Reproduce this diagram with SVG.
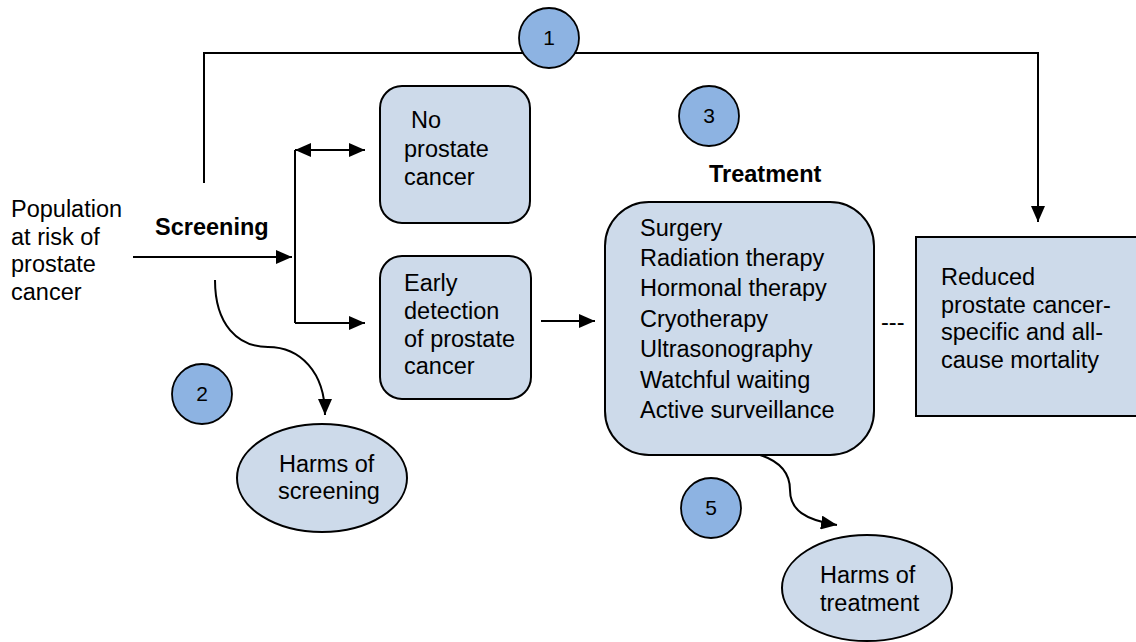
<svg xmlns="http://www.w3.org/2000/svg" width="1136" height="642" viewBox="0 0 1136 642">
<style>
text{font-family:"Liberation Sans",Arial,sans-serif;font-size:23.5px;fill:#000}
.b{font-weight:bold}
.box{fill:#cddaea;stroke:#000;stroke-width:2}
.kq{fill:#8db3e2;stroke:#000;stroke-width:1.8}
.ln{fill:none;stroke:#000;stroke-width:2}
.n{font-size:21px}
</style>
<defs>
<marker id="arr" viewBox="0 0 16 14" refX="16" refY="7" markerWidth="16" markerHeight="14" markerUnits="userSpaceOnUse" orient="auto-start-reverse">
<path d="M0,0 L16,7 L0,14 z" fill="#000"/>
</marker>
</defs>
<rect width="1136" height="642" fill="#fff"/>
<g id="connectors">
<polyline class="ln" points="204,183 204,53 1038,53 1038,222" marker-end="url(#arr)"/>
<line class="ln" x1="133" y1="257" x2="292" y2="257" marker-end="url(#arr)"/>
<line class="ln" x1="295" y1="150" x2="295" y2="323"/>
<line class="ln" x1="295" y1="150" x2="365" y2="150" marker-start="url(#arr)" marker-end="url(#arr)"/>
<line class="ln" x1="295" y1="323" x2="365" y2="323" marker-end="url(#arr)"/>
<line class="ln" x1="541" y1="321" x2="595" y2="321" marker-end="url(#arr)"/>
<path class="ln" d="M215,280 C215,325 238,347 268,347 C300,347 325,372 325,415" stroke-width="1.6" marker-end="url(#arr)"/>
<path class="ln" d="M760,455 C782,462 790,475 790,490 C790,510 805,520 837,525" stroke-width="1.6" marker-end="url(#arr)"/>
</g>
<g id="population"><text x="11" y="217">Population</text><text x="11" y="245">at risk of</text><text x="11" y="272">prostate</text><text x="11" y="300">cancer</text></g>
<g id="screening"><text class="b" x="155" y="235">Screening</text></g>
<g id="c1"><circle class="kq" cx="549" cy="38" r="30"/><text class="n" x="549" y="45" text-anchor="middle">1</text></g>
<g id="c2"><circle class="kq" cx="202" cy="394" r="30"/><text class="n" x="202" y="401" text-anchor="middle">2</text></g>
<g id="c3"><circle class="kq" cx="709" cy="116" r="30"/><text class="n" x="709" y="123" text-anchor="middle">3</text></g>
<g id="c5"><circle class="kq" cx="711" cy="508" r="30"/><text class="n" x="711" y="515" text-anchor="middle">5</text></g>
<g id="noprostate"><rect class="box" x="380" y="86" width="150" height="137" rx="22"/><text x="411" y="128">No</text><text x="404" y="157">prostate</text><text x="404" y="185">cancer</text></g>
<g id="early"><rect class="box" x="380" y="256" width="151" height="143" rx="22"/><text x="404" y="291">Early</text><text x="404" y="319">detection</text><text x="404" y="347">of prostate</text><text x="404" y="374">cancer</text></g>
<g id="treatmentlabel"><text class="b" x="709" y="182">Treatment</text></g>
<g id="treatment"><rect class="box" x="605" y="202" width="269" height="253" rx="44"/>
<text x="640" y="236">Surgery</text><text x="640" y="266">Radiation therapy</text><text x="640" y="296">Hormonal therapy</text><text x="640" y="327">Cryotherapy</text><text x="640" y="357">Ultrasonography</text><text x="640" y="388">Watchful waiting</text><text x="640" y="418">Active surveillance</text></g>
<g id="dash"><text x="881" y="330">---</text></g>
<g id="reduced"><rect class="box" x="916" y="237" width="222" height="179"/><text x="941" y="285">Reduced</text><text x="941" y="313">prostate cancer-</text><text x="941" y="340">specific and all-</text><text x="941" y="368">cause mortality</text></g>
<g id="harms1"><ellipse class="box" cx="322" cy="478" rx="85" ry="54"/><text x="279" y="472">Harms of</text><text x="278" y="499">screening</text></g>
<g id="harms2"><ellipse class="box" cx="867" cy="588" rx="85" ry="53"/><text x="820" y="583">Harms of</text><text x="820" y="611">treatment</text></g>
</svg>
